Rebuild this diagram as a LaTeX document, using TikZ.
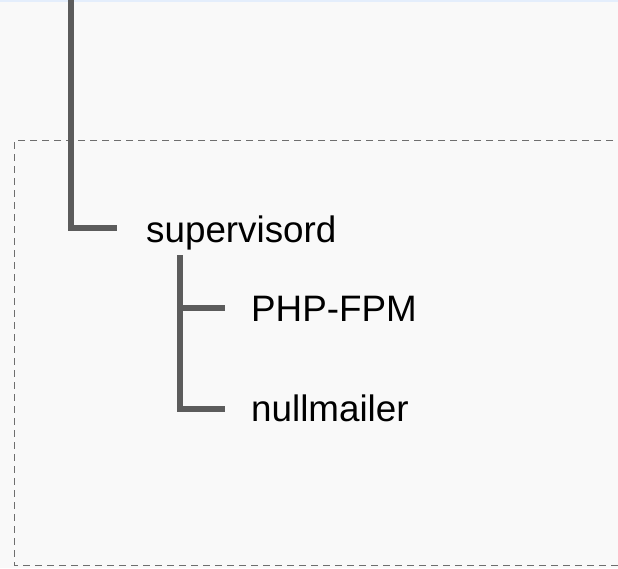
\documentclass[tikz,border=0pt]{standalone}
\usepackage{fontspec}
\setmainfont{Liberation Sans}
\definecolor{bgcol}{RGB}{249,249,249}
\definecolor{linecol}{RGB}{92,92,92}
\definecolor{dashcol}{RGB}{110,110,110}
\definecolor{topcol}{RGB}{228,238,252}
\tikzset{
    branch/.style={line width=6pt, draw=linecol},
    label/.style={anchor=base west, inner sep=0pt, font=\fontsize{36.8}{44}\selectfont},
    boxline/.style={draw=dashcol, line width=1.7pt, dash pattern=on 7pt off 5pt}
}
\begin{document}
\begin{tikzpicture}[x=1pt, y=-1pt]
        % Background and page size
        \fill[bgcol] (0,0) rectangle (618,568);
        \useasboundingbox (0,0) rectangle (618,568);
        \fill[topcol] (0,0) rectangle (618,1.5);

        % Draw the dashed container
        \draw[boxline] (625,140.5) -- (14.5,140.5) -- (14.5,565.5) -- (625,565.5);

        % Process labels
        \node[label] (sup) at (146,242) {supervisord};
        \node[label] (php) at (251,321.7) {PHP-FPM};
        \node[label] (null) at (251,421.7) {nullmailer};

        % Parent process line coming from above
        \coordinate (top) at (71,-3);
        \draw[branch] (top) |- ([xshift=-29pt, yshift=14pt]sup.base west);

        % Children of supervisord
        \draw[branch] ([xshift=34pt, yshift=-13pt]sup.base west) |- ([xshift=-26pt, yshift=13.7pt]php.base west);
        \draw[branch] ([xshift=34pt, yshift=-13pt]sup.base west) |- ([xshift=-26pt, yshift=12.7pt]null.base west);
    \end{tikzpicture}
\end{document}
